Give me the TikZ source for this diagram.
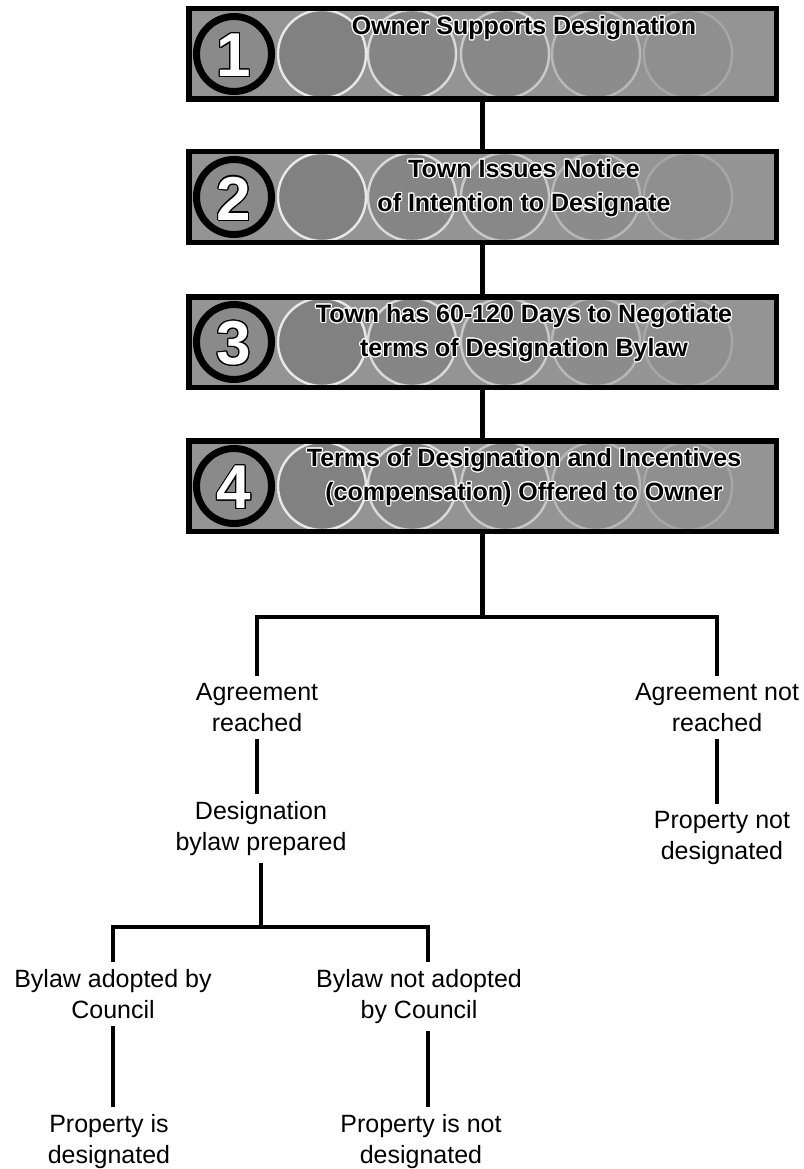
\documentclass[tikz,border=0pt]{standalone}
\usepackage{fontspec}
\setmainfont{Liberation Sans}
\usepackage[copies]{contour}
\contourlength{1.1pt}
\definecolor{boxbg}{gray}{0.58}
\definecolor{circbg}{gray}{0.5}
\definecolor{numbg}{gray}{0.54}
\newcommand\hl[1]{\contour{white}{#1}}
\newcommand\drawstep[4]{%
  \fill[boxbg] (186,#2) rectangle (779,#2+96);
  \begin{scope}
    \clip (186,#2) rectangle (779,#2+96);
    \foreach \cx/\op in {322/0.9,412/0.75,505/0.58,596/0.4,688/0.22}{%
      \fill[circbg,opacity=\op] (\cx,#2+48) circle (44);
      \draw[white,line width=2.4,opacity=\op*0.9] (\cx,#2+48) circle (44);
    }
  \end{scope}
  \fill[numbg] (234,#2+48) circle (38);
  \draw[black,line width=7] (234,#2+48) circle (37.5);
  \node[numtext] at (234,#2+50) {\color{white}\contour{black}{#3}};
  \node[steptext] at (524,#2+10) {#4};
  \node[stepframe] (#1) at (482.5,#2+48) {};
}
\begin{document}
\begin{tikzpicture}[x=1pt,y=-1pt,
  stepframe/.style={draw=black,line width=5.5,minimum width=587.5,minimum height=90.5,inner sep=0},
  steptext/.style={anchor=north,align=center,inner sep=0,font=\fontsize{25}{34}\selectfont\bfseries},
  numtext/.style={inner sep=0,font=\fontsize{62}{62}\selectfont\bfseries},
  leaf/.style={anchor=north,align=center,inner xsep=0,inner ysep=7,font=\fontsize{25}{31}\selectfont},
  conn/.style={draw=black,line width=4.5}]
\useasboundingbox (0,0) rectangle (803,1169);
\fill[white] (0,0) rectangle (803,1169);

\drawstep{b1}{6}{1}{\hl{Owner Supports Designation}}
\drawstep{b2}{149}{2}{\hl{Town Issues Notice}\\\hl{of Intention to Designate}}
\drawstep{b3}{294}{3}{\hl{Town has 60-120 Days to Negotiate}\\\hl{terms of Designation Bylaw}}
\drawstep{b4}{438}{4}{\hl{Terms of Designation and Incentives}\\\hl{(compensation) Offered to Owner}}

\draw[conn] (b1.south) -- (b2.north);
\draw[conn] (b2.south) -- (b3.north);
\draw[conn] (b3.south) -- (b4.north);

\node[leaf] (ar) at (257,676) {Agreement\\reached};
\node[leaf] (anr) at (717,676) {Agreement not\\reached};
\node[leaf] (dbp) at (261,794) {Designation\\bylaw prepared};
\node[leaf] (pnd) at (722,804) {Property not\\designated};
\node[leaf] (bac) at (113,962) {Bylaw adopted by\\Council};
\node[leaf] (bnac) at (419,962) {Bylaw not adopted\\by Council};
\node[leaf] (pid) at (109,1107) {Property is\\designated};
\node[leaf] (pind) at (421,1107) {Property is not\\designated};

\coordinate (j1) at (485,617);
\coordinate (j2) at (260,927);

\draw[conn] (b4.south) -- (b4.south |- j1);
\draw[conn] (ar.north) |- (j1) -| (anr.north);
\draw[conn] (ar.south) -- (ar.south |- dbp.north);
\draw[conn] (anr.south) -- (anr.south |- pnd.north);
\draw[conn] (dbp.south) -- (dbp.south |- j2);
\draw[conn] (bac.north) |- (j2) -| ([xshift=9pt]bnac.north);
\draw[conn] (bac.south) -- (bac.south |- pid.north);
\draw[conn] ([xshift=9pt]bnac.south) -- ([xshift=9pt]bnac.south |- pind.north);
\end{tikzpicture}
\end{document}
